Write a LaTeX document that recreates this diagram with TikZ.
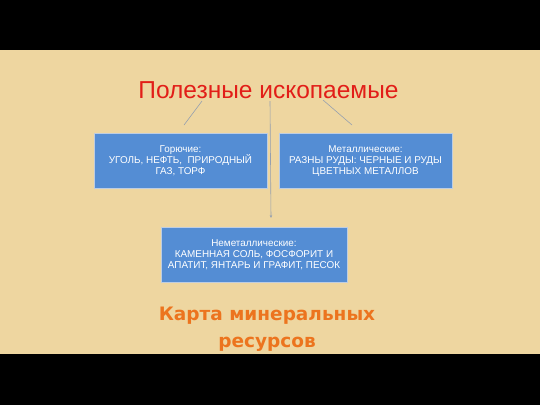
\documentclass[tikz,border=0pt]{standalone}
\usepackage{fontspec}
\setmainfont{Liberation Sans}
\newfontfamily\mapfont{DejaVu Sans}
\usetikzlibrary{arrows.meta}
\definecolor{paper}{RGB}{238,214,160}
\definecolor{boxblue}{RGB}{84,141,212}
\definecolor{boxedge}{RGB}{190,205,225}
\definecolor{titlered}{RGB}{226,30,24}
\definecolor{mapor}{RGB}{236,116,30}
\definecolor{linkgray}{RGB}{150,160,175}
\tikzset{
  catbox/.style={draw=boxedge, line width=0.8pt, fill=boxblue, text=white,
    minimum width=173pt, minimum height=55pt, inner sep=2pt, align=center,
    font=\fontsize{9.9}{11}\selectfont},
  link/.style={draw=linkgray, line width=0.6pt},
  maptext/.style={text=mapor, font=\mapfont\bfseries\fontsize{18.5}{27}\selectfont, anchor=base, inner sep=0pt}
}
\begin{document}
\begin{tikzpicture}[x=1pt,y=-1pt]
\useasboundingbox (0,0) rectangle (540,405);
\fill[black] (0,0) rectangle (540,405);
\fill[paper] (0,50) rectangle (540,354);
\node[text=titlered, font=\fontsize{24.5}{28}\selectfont, anchor=base, inner sep=0pt] (title) at (268.5,98) {Полезные ископаемые};
\node[catbox] (fuel) at (180.5,161) {Горючие:\\УГОЛЬ, НЕФТЬ,\ \ ПРИРОДНЫЙ\\ГАЗ, ТОРФ};
\node[catbox] (metal) at (365.5,161) {Металлические:\\РАЗНЫ РУДЫ: ЧЕРНЫЕ И РУДЫ\\ЦВЕТНЫХ МЕТАЛЛОВ};
\node[catbox, minimum width=186pt] (nonmetal) at (254,254.5) {Неметаллические:\\КАМЕННАЯ СОЛЬ, ФОСФОРИТ И\\АПАТИТ, ЯНТАРЬ И ГРАФИТ, ПЕСОК};
\coordinate (tl) at (202,101);
\coordinate (tm) at (270,101);
\coordinate (tr) at (323,100);
\coordinate (el) at (184,125);
\coordinate (er) at (352,125);
\coordinate (em) at (271,218);
\draw[link] (tl) -- (el);
\draw[link] (tr) -- (er);
\draw[link, -{Stealth[length=3pt,width=2.5pt]}] (tm) -- (em);
\node[maptext] (map1) at (267,320) {Карта минеральных};
\node[maptext] (map2) at (267,347) {ресурсов};
\end{tikzpicture}
\end{document}
